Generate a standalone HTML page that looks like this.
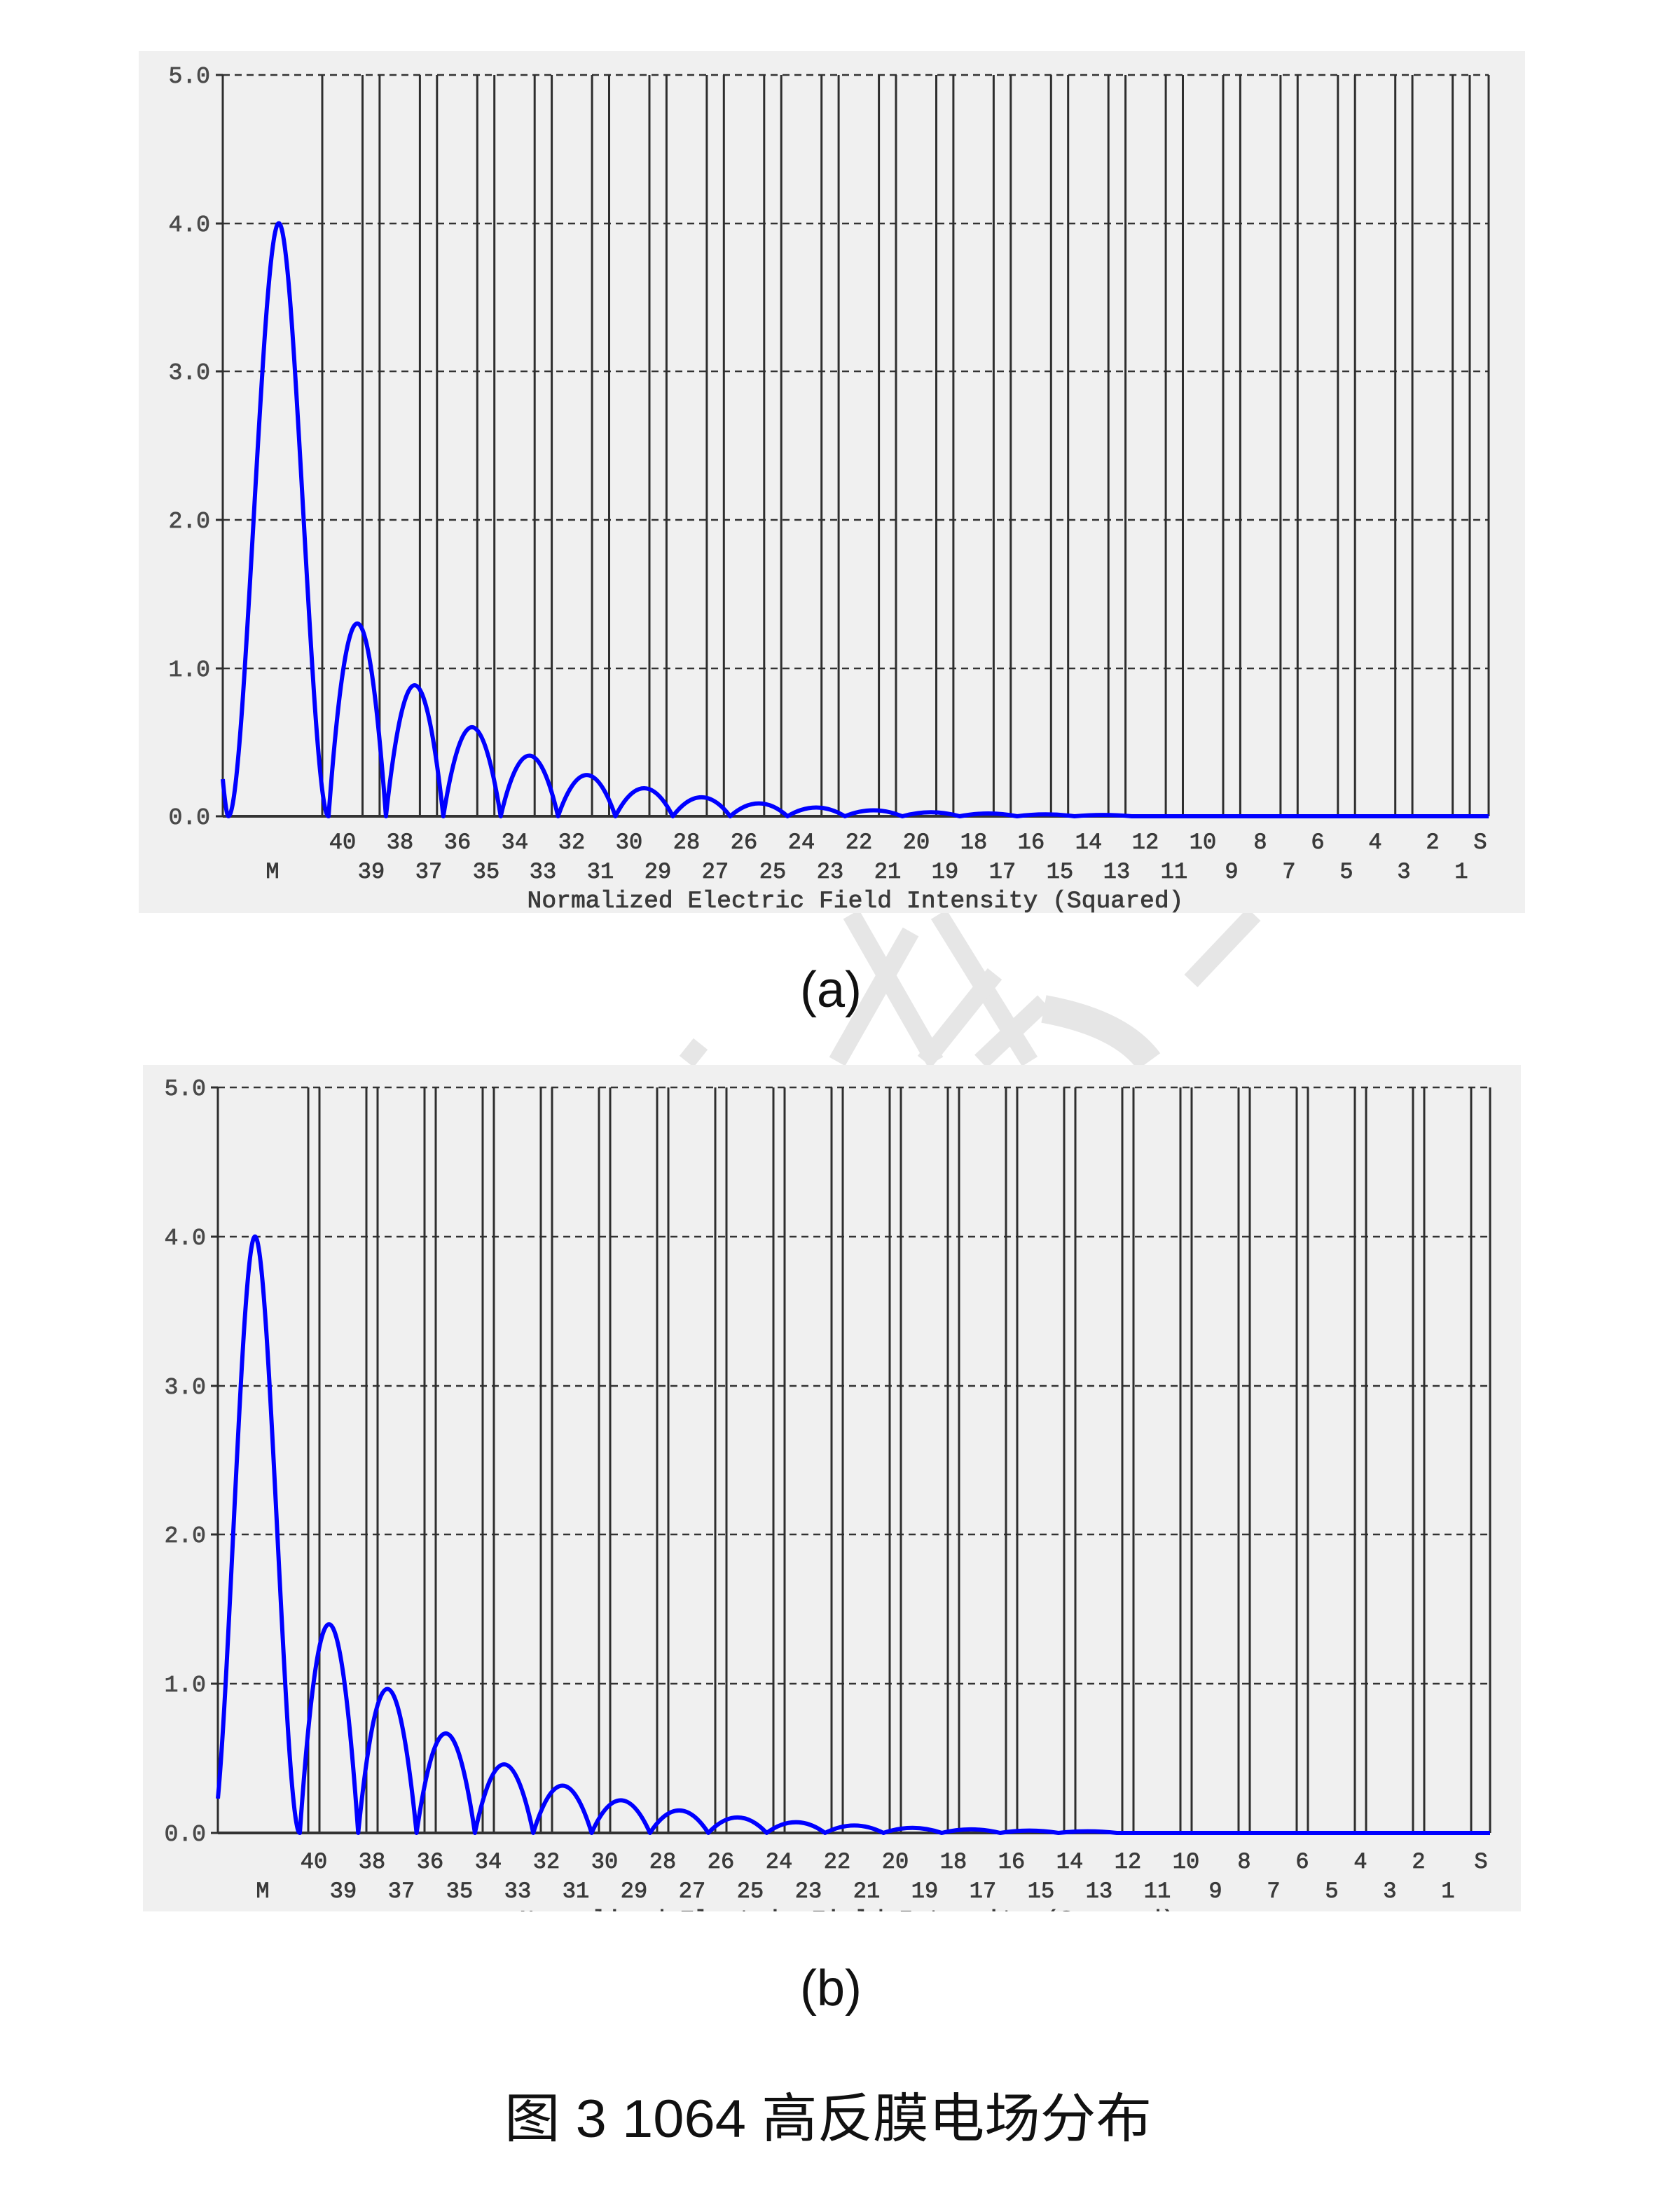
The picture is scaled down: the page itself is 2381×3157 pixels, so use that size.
<!DOCTYPE html>
<html><head><meta charset="utf-8"><style>
html,body{margin:0;padding:0;background:#fff;}
svg{display:block;}
.lb{font-family:"Liberation Mono",monospace;font-size:32px;fill:#3a3a3a;text-anchor:middle;stroke:#3a3a3a;stroke-width:0.8;}
.yl{font-family:"Liberation Mono",monospace;font-size:33px;fill:#4a4a4a;text-anchor:end;stroke:#4a4a4a;stroke-width:0.8;}
.cap{font-family:"Liberation Sans","Noto Sans CJK SC",sans-serif;fill:#111;text-anchor:middle;}
</style></head><body>
<svg width="2381" height="3157" viewBox="0 0 2381 3157" xmlns="http://www.w3.org/2000/svg">
<rect width="2381" height="3157" fill="#fff"/>
<!-- watermark -->
<g stroke="#e6e6e6" stroke-width="26" fill="none">
<line x1="1215" y1="1305" x2="1335" y2="1515"/>
<line x1="1340" y1="1305" x2="1470" y2="1515"/>
<line x1="1300" y1="1330" x2="1195" y2="1515"/>
<line x1="1420" y1="1390" x2="1320" y2="1515"/>
<line x1="1490" y1="1430" x2="1400" y2="1515"/>
<line x1="1790" y1="1305" x2="1700" y2="1400"/>
<line x1="1000" y1="1490" x2="980" y2="1515"/>
<path d="M1490 1440 Q1600 1460 1640 1515" stroke-width="40"/>
</g>

<!-- Panel A -->
<rect x="198" y="73" width="1979" height="1230" fill="#f0f0f0"/>
<g stroke="#333" stroke-width="2.5" stroke-dasharray="10 7">
<line x1="318" y1="107" x2="2125" y2="107"/>
<line x1="318" y1="319" x2="2125" y2="319"/>
<line x1="318" y1="530" x2="2125" y2="530"/>
<line x1="318" y1="742" x2="2125" y2="742"/>
<line x1="318" y1="954" x2="2125" y2="954"/>
</g>
<g stroke="#2e2e2e" stroke-width="3">
<line x1="308" y1="107" x2="318" y2="107"/><line x1="308" y1="319" x2="318" y2="319"/><line x1="308" y1="530" x2="318" y2="530"/><line x1="308" y1="742" x2="318" y2="742"/><line x1="308" y1="954" x2="318" y2="954"/><line x1="308" y1="1165" x2="318" y2="1165"/>
<line x1="318" y1="107" x2="318" y2="1165"/>
<line x1="460" y1="107" x2="460" y2="1165"/><line x1="517.5" y1="107" x2="517.5" y2="1165"/>
<line x1="541.9" y1="107" x2="541.9" y2="1165"/><line x1="599.4" y1="107" x2="599.4" y2="1165"/>
<line x1="623.8" y1="107" x2="623.8" y2="1165"/><line x1="681.3" y1="107" x2="681.3" y2="1165"/>
<line x1="705.7" y1="107" x2="705.7" y2="1165"/><line x1="763.2" y1="107" x2="763.2" y2="1165"/>
<line x1="787.6" y1="107" x2="787.6" y2="1165"/><line x1="845.1" y1="107" x2="845.1" y2="1165"/>
<line x1="869.5" y1="107" x2="869.5" y2="1165"/><line x1="927" y1="107" x2="927" y2="1165"/>
<line x1="951.4" y1="107" x2="951.4" y2="1165"/><line x1="1008.9" y1="107" x2="1008.9" y2="1165"/>
<line x1="1033.3" y1="107" x2="1033.3" y2="1165"/><line x1="1090.8" y1="107" x2="1090.8" y2="1165"/>
<line x1="1115.2" y1="107" x2="1115.2" y2="1165"/><line x1="1172.7" y1="107" x2="1172.7" y2="1165"/>
<line x1="1197.1" y1="107" x2="1197.1" y2="1165"/><line x1="1254.6" y1="107" x2="1254.6" y2="1165"/>
<line x1="1279" y1="107" x2="1279" y2="1165"/><line x1="1336.5" y1="107" x2="1336.5" y2="1165"/>
<line x1="1360.9" y1="107" x2="1360.9" y2="1165"/><line x1="1418.4" y1="107" x2="1418.4" y2="1165"/>
<line x1="1442.8" y1="107" x2="1442.8" y2="1165"/><line x1="1500.3" y1="107" x2="1500.3" y2="1165"/>
<line x1="1524.7" y1="107" x2="1524.7" y2="1165"/><line x1="1582.2" y1="107" x2="1582.2" y2="1165"/>
<line x1="1606.6" y1="107" x2="1606.6" y2="1165"/><line x1="1664.1" y1="107" x2="1664.1" y2="1165"/>
<line x1="1688.5" y1="107" x2="1688.5" y2="1165"/><line x1="1746" y1="107" x2="1746" y2="1165"/>
<line x1="1770.4" y1="107" x2="1770.4" y2="1165"/><line x1="1827.9" y1="107" x2="1827.9" y2="1165"/>
<line x1="1852.3" y1="107" x2="1852.3" y2="1165"/><line x1="1909.8" y1="107" x2="1909.8" y2="1165"/>
<line x1="1934.2" y1="107" x2="1934.2" y2="1165"/><line x1="1991.7" y1="107" x2="1991.7" y2="1165"/>
<line x1="2016.1" y1="107" x2="2016.1" y2="1165"/><line x1="2073.6" y1="107" x2="2073.6" y2="1165"/>
<line x1="2098" y1="107" x2="2098" y2="1165"/>
<line x1="2125" y1="107" x2="2125" y2="1165"/>
</g>
<line x1="318" y1="1165" x2="2125" y2="1165" stroke="#333" stroke-width="4"/>
<path fill="none" stroke="#0000ff" stroke-width="6" stroke-linejoin="round" d="M318 1112 Q323 1165 326 1165 C350 1165 374 318.6 398 318.6 C421.7 318.6 445.3 1165 469 1165
Q510 614.8 550.9 1165 Q591.8 790.9 632.8 1165 Q673.7 910.7 714.7 1165 Q755.6 991.9 796.6 1165 Q837.5 1047.3 878.5 1165 Q919.4 1085 960.4 1165 Q1001.3 1110.8 1042.3 1165 Q1083.2 1128.2 1124.2 1165 Q1165.1 1140 1206.1 1165 Q1247 1148.1 1288 1165 Q1329 1153.6 1369.9 1165 Q1410.8 1157 1451.8 1165 Q1492.7 1159.5 1533.7 1165 Q1574.6 1161.2 1615.6 1165 L2125 1165"/>
<text class="yl" x="300" y="118">5.0</text>
<text class="yl" x="300" y="330">4.0</text>
<text class="yl" x="300" y="541">3.0</text>
<text class="yl" x="300" y="753">2.0</text>
<text class="yl" x="300" y="965">1.0</text>
<text class="yl" x="300" y="1176">0.0</text>
<g class="lb">
<text x="489" y="1211">40</text><text x="571" y="1211">38</text><text x="653" y="1211">36</text><text x="735" y="1211">34</text><text x="816" y="1211">32</text><text x="898" y="1211">30</text><text x="980" y="1211">28</text><text x="1062" y="1211">26</text><text x="1144" y="1211">24</text><text x="1226" y="1211">22</text><text x="1308" y="1211">20</text><text x="1390" y="1211">18</text><text x="1472" y="1211">16</text><text x="1554" y="1211">14</text><text x="1635" y="1211">12</text><text x="1717" y="1211">10</text><text x="1799" y="1211">8</text><text x="1881" y="1211">6</text><text x="1963" y="1211">4</text><text x="2045" y="1211">2</text><text x="2113" y="1211">S</text>
<text x="389" y="1253">M</text><text x="530" y="1253">39</text><text x="612" y="1253">37</text><text x="694" y="1253">35</text><text x="775" y="1253">33</text><text x="857" y="1253">31</text><text x="939" y="1253">29</text><text x="1021" y="1253">27</text><text x="1103" y="1253">25</text><text x="1185" y="1253">23</text><text x="1267" y="1253">21</text><text x="1349" y="1253">19</text><text x="1431" y="1253">17</text><text x="1513" y="1253">15</text><text x="1594" y="1253">13</text><text x="1676" y="1253">11</text><text x="1758" y="1253">9</text><text x="1840" y="1253">7</text><text x="1922" y="1253">5</text><text x="2004" y="1253">3</text><text x="2086" y="1253">1</text>
<text x="1221" y="1295" textLength="937" lengthAdjust="spacingAndGlyphs" style="font-size:34px">Normalized Electric Field Intensity (Squared)</text>
</g>

<!-- Panel B -->
<rect x="204" y="1520" width="1967" height="1208" fill="#f0f0f0"/>
<g stroke="#333" stroke-width="2.5" stroke-dasharray="10 7">
<line x1="311" y1="1552" x2="2127" y2="1552"/>
<line x1="311" y1="1765" x2="2127" y2="1765"/>
<line x1="311" y1="1978" x2="2127" y2="1978"/>
<line x1="311" y1="2190" x2="2127" y2="2190"/>
<line x1="311" y1="2403" x2="2127" y2="2403"/>
</g>
<g stroke="#2e2e2e" stroke-width="3">
<line x1="301" y1="1552" x2="311" y2="1552"/><line x1="301" y1="1765" x2="311" y2="1765"/><line x1="301" y1="1978" x2="311" y2="1978"/><line x1="301" y1="2190" x2="311" y2="2190"/><line x1="301" y1="2403" x2="311" y2="2403"/><line x1="301" y1="2616" x2="311" y2="2616"/>
<line x1="311" y1="1552" x2="311" y2="2616"/>
<line x1="440" y1="1552" x2="440" y2="2616"/><line x1="456" y1="1552" x2="456" y2="2616"/>
<line x1="523" y1="1552" x2="523" y2="2616"/><line x1="539" y1="1552" x2="539" y2="2616"/>
<line x1="606" y1="1552" x2="606" y2="2616"/><line x1="622" y1="1552" x2="622" y2="2616"/>
<line x1="689" y1="1552" x2="689" y2="2616"/><line x1="705" y1="1552" x2="705" y2="2616"/>
<line x1="772" y1="1552" x2="772" y2="2616"/><line x1="788" y1="1552" x2="788" y2="2616"/>
<line x1="855" y1="1552" x2="855" y2="2616"/><line x1="871" y1="1552" x2="871" y2="2616"/>
<line x1="938" y1="1552" x2="938" y2="2616"/><line x1="954" y1="1552" x2="954" y2="2616"/>
<line x1="1021" y1="1552" x2="1021" y2="2616"/><line x1="1037" y1="1552" x2="1037" y2="2616"/>
<line x1="1104" y1="1552" x2="1104" y2="2616"/><line x1="1120" y1="1552" x2="1120" y2="2616"/>
<line x1="1187" y1="1552" x2="1187" y2="2616"/><line x1="1203" y1="1552" x2="1203" y2="2616"/>
<line x1="1270" y1="1552" x2="1270" y2="2616"/><line x1="1286" y1="1552" x2="1286" y2="2616"/>
<line x1="1353" y1="1552" x2="1353" y2="2616"/><line x1="1369" y1="1552" x2="1369" y2="2616"/>
<line x1="1436" y1="1552" x2="1436" y2="2616"/><line x1="1452" y1="1552" x2="1452" y2="2616"/>
<line x1="1519" y1="1552" x2="1519" y2="2616"/><line x1="1535" y1="1552" x2="1535" y2="2616"/>
<line x1="1602" y1="1552" x2="1602" y2="2616"/><line x1="1618" y1="1552" x2="1618" y2="2616"/>
<line x1="1685" y1="1552" x2="1685" y2="2616"/><line x1="1701" y1="1552" x2="1701" y2="2616"/>
<line x1="1768" y1="1552" x2="1768" y2="2616"/><line x1="1784" y1="1552" x2="1784" y2="2616"/>
<line x1="1851" y1="1552" x2="1851" y2="2616"/><line x1="1867" y1="1552" x2="1867" y2="2616"/>
<line x1="1934" y1="1552" x2="1934" y2="2616"/><line x1="1950" y1="1552" x2="1950" y2="2616"/>
<line x1="2017" y1="1552" x2="2017" y2="2616"/><line x1="2033" y1="1552" x2="2033" y2="2616"/>
<line x1="2100" y1="1552" x2="2100" y2="2616"/>
<line x1="2127" y1="1552" x2="2127" y2="2616"/>
</g>
<line x1="311" y1="2616" x2="2127" y2="2616" stroke="#333" stroke-width="4"/>
<path fill="none" stroke="#0000ff" stroke-width="6" stroke-linejoin="round" d="M311 2567 C328.7 2377.7 346.3 1764.8 364 1764.8 C385.3 1764.8 406.7 2616 428 2616
Q469.7 2020.2 511.3 2616 Q553 2204.9 594.6 2616 Q636.3 2332.1 677.9 2616 Q719.6 2420.2 761.2 2616 Q802.9 2481.1 844.5 2616 Q886.2 2522.8 927.8 2616 Q969.5 2551.7 1011.1 2616 Q1052.8 2571.7 1094.4 2616 Q1136.1 2585.4 1177.7 2616 Q1219.4 2594.7 1261 2616 Q1302.7 2601.5 1344.3 2616 Q1386 2605.8 1427.6 2616 Q1469.3 2609.2 1510.9 2616 Q1552.6 2611.3 1594.2 2616 L2127 2616"/>
<text class="yl" x="294" y="1563">5.0</text>
<text class="yl" x="294" y="1776">4.0</text>
<text class="yl" x="294" y="1989">3.0</text>
<text class="yl" x="294" y="2201">2.0</text>
<text class="yl" x="294" y="2414">1.0</text>
<text class="yl" x="294" y="2627">0.0</text>
<g class="lb">
<text x="448" y="2666">40</text><text x="531" y="2666">38</text><text x="614" y="2666">36</text><text x="697" y="2666">34</text><text x="780" y="2666">32</text><text x="863" y="2666">30</text><text x="946" y="2666">28</text><text x="1029" y="2666">26</text><text x="1112" y="2666">24</text><text x="1195" y="2666">22</text><text x="1278" y="2666">20</text><text x="1361" y="2666">18</text><text x="1444" y="2666">16</text><text x="1527" y="2666">14</text><text x="1610" y="2666">12</text><text x="1693" y="2666">10</text><text x="1776" y="2666">8</text><text x="1859" y="2666">6</text><text x="1942" y="2666">4</text><text x="2025" y="2666">2</text><text x="2114" y="2666">S</text>
<text x="375" y="2708">M</text><text x="490" y="2708">39</text><text x="573" y="2708">37</text><text x="656" y="2708">35</text><text x="739" y="2708">33</text><text x="822" y="2708">31</text><text x="905" y="2708">29</text><text x="988" y="2708">27</text><text x="1071" y="2708">25</text><text x="1154" y="2708">23</text><text x="1237" y="2708">21</text><text x="1320" y="2708">19</text><text x="1403" y="2708">17</text><text x="1486" y="2708">15</text><text x="1569" y="2708">13</text><text x="1652" y="2708">11</text><text x="1735" y="2708">9</text><text x="1818" y="2708">7</text><text x="1901" y="2708">5</text><text x="1984" y="2708">3</text><text x="2067" y="2708">1</text>
<text x="1210" y="2750" textLength="937" lengthAdjust="spacingAndGlyphs" style="font-size:34px">Normalized Electric Field Intensity (Squared)</text>
</g>
<rect x="0" y="2728" width="2381" height="40" fill="#fff"/>

<text class="cap" x="1186" y="1437" style="font-size:72px">(a)</text>
<text class="cap" x="1186" y="2862" style="font-size:72px">(b)</text>
<text class="cap" x="1182" y="3050" textLength="924" lengthAdjust="spacingAndGlyphs" style="font-size:76px">图 3 1064 高反膜电场分布</text>
</svg>
</body></html>
